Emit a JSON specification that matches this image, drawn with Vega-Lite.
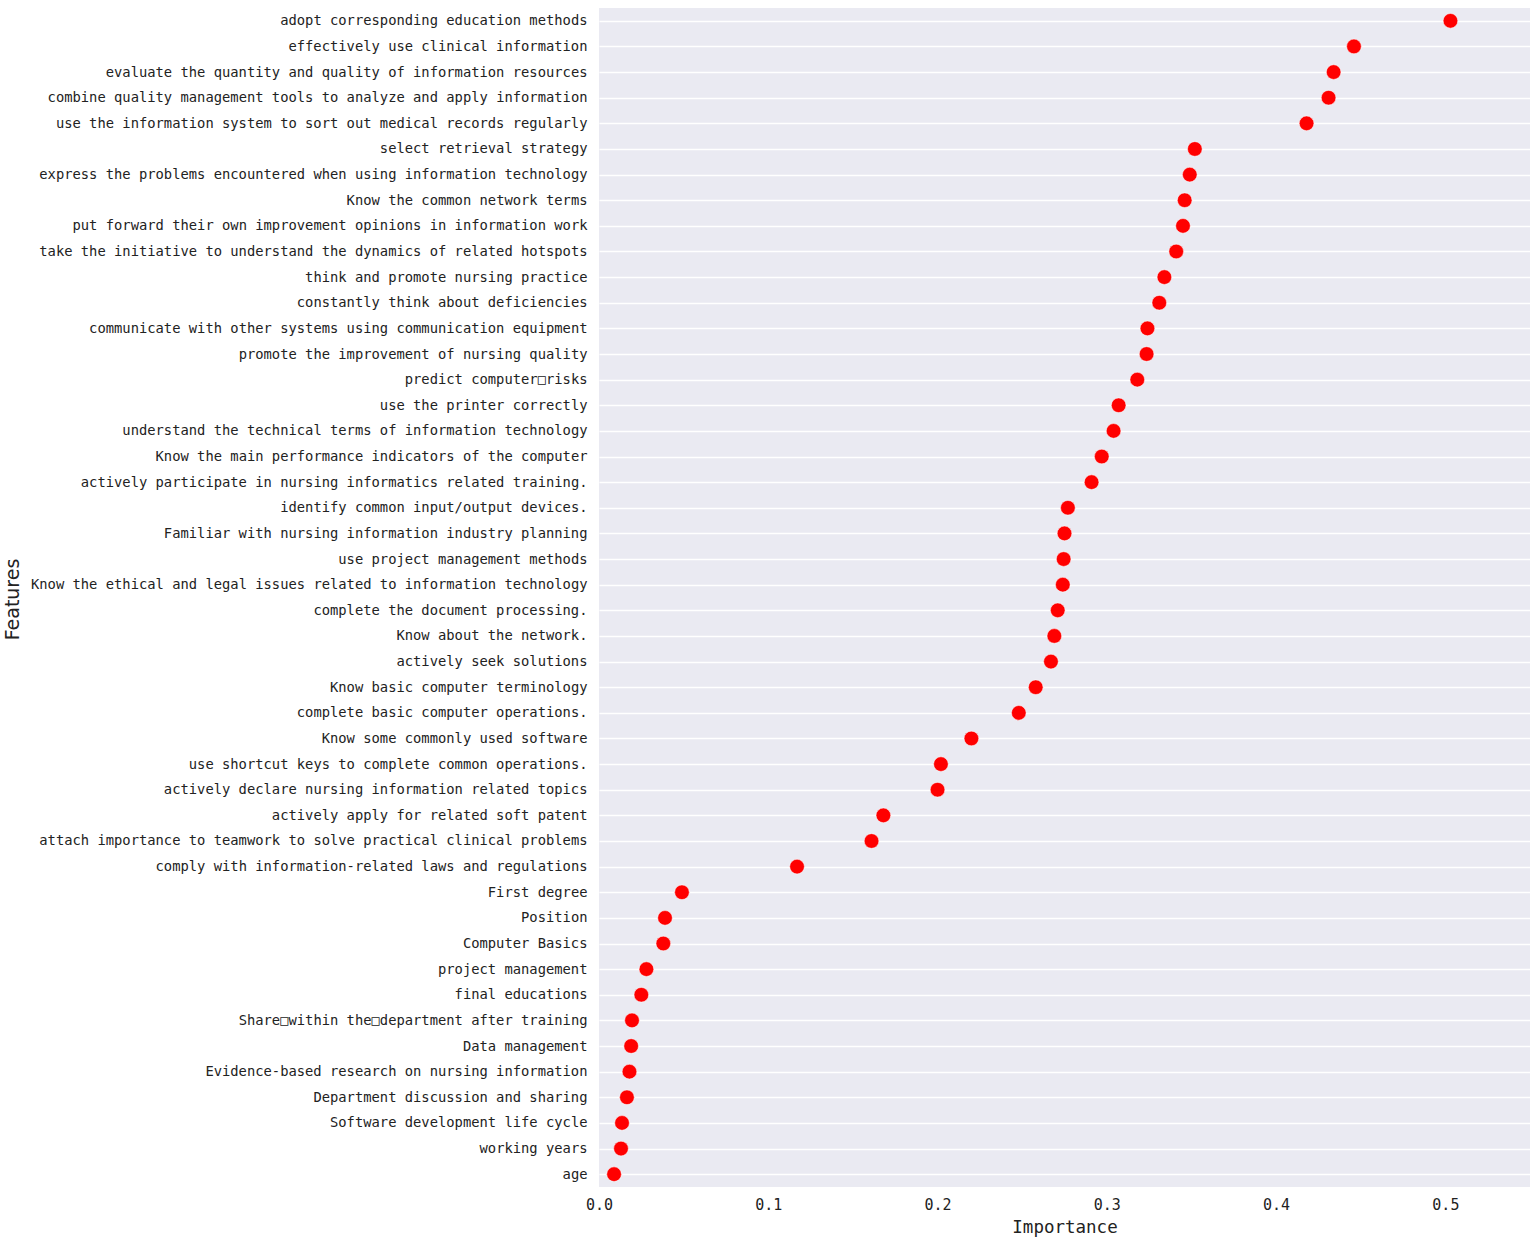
{
  "$schema": "https://vega.github.io/schema/vega-lite/v6.json",
  "autosize": {"type": "none"},
  "width": 931,
  "height": 1179,
  "padding": {"left": 599, "top": 8, "right": 5, "bottom": 57},
  "background": "white",
  "config": {
    "view": {"fill": "#EAEAF2", "stroke": null},
    "font": "DejaVu Sans Mono"
  },
  "data": {
    "values": [
      {"feature": "adopt corresponding education methods", "importance": 0.503},
      {"feature": "effectively use clinical information", "importance": 0.446},
      {"feature": "evaluate the quantity and quality of information resources", "importance": 0.434},
      {"feature": "combine quality management tools to analyze and apply information", "importance": 0.431},
      {"feature": "use the information system to sort out medical records regularly", "importance": 0.418},
      {"feature": "select retrieval strategy", "importance": 0.352},
      {"feature": "express the problems encountered when using information technology", "importance": 0.349},
      {"feature": "Know the common network terms", "importance": 0.346},
      {"feature": "put forward their own improvement opinions in information work", "importance": 0.345},
      {"feature": "take the initiative to understand the dynamics of related hotspots", "importance": 0.341},
      {"feature": "think and promote nursing practice", "importance": 0.334},
      {"feature": "constantly think about deficiencies", "importance": 0.331},
      {"feature": "communicate with other systems using communication equipment", "importance": 0.324},
      {"feature": "promote the improvement of nursing quality", "importance": 0.3235},
      {"feature": "predict computer□risks", "importance": 0.318},
      {"feature": "use the printer correctly", "importance": 0.307},
      {"feature": "understand the technical terms of information technology", "importance": 0.304},
      {"feature": "Know the main performance indicators of the computer", "importance": 0.297},
      {"feature": "actively participate in nursing informatics related training.", "importance": 0.291},
      {"feature": "identify common input/output devices.", "importance": 0.277},
      {"feature": "Familiar with nursing information industry planning", "importance": 0.275},
      {"feature": "use project management methods", "importance": 0.2745},
      {"feature": "Know the ethical and legal issues related to information technology", "importance": 0.274},
      {"feature": "complete the document processing.", "importance": 0.271},
      {"feature": "Know about the network.", "importance": 0.269},
      {"feature": "actively seek solutions", "importance": 0.267},
      {"feature": "Know basic computer terminology", "importance": 0.258},
      {"feature": "complete basic computer operations.", "importance": 0.248},
      {"feature": "Know some commonly used software", "importance": 0.220},
      {"feature": "use shortcut keys to complete common operations.", "importance": 0.202},
      {"feature": "actively declare nursing information related topics", "importance": 0.200},
      {"feature": "actively apply for related soft patent", "importance": 0.168},
      {"feature": "attach importance to teamwork to solve practical clinical problems", "importance": 0.161},
      {"feature": "comply with information-related laws and regulations", "importance": 0.117},
      {"feature": "First degree", "importance": 0.049},
      {"feature": "Position", "importance": 0.039},
      {"feature": "Computer Basics", "importance": 0.038},
      {"feature": "project management", "importance": 0.028},
      {"feature": "final educations ", "importance": 0.025},
      {"feature": "Share□within the□department after training", "importance": 0.0195},
      {"feature": "Data management", "importance": 0.019},
      {"feature": "Evidence-based research on nursing information", "importance": 0.018},
      {"feature": "Department discussion and sharing", "importance": 0.0165},
      {"feature": "Software development life cycle", "importance": 0.0136},
      {"feature": "working years", "importance": 0.013},
      {"feature": "age", "importance": 0.0089}
    ]
  },
  "mark": {"type": "point", "filled": true, "color": "#FF0000", "opacity": 1, "size": 215, "stroke": "white", "strokeWidth": 0.5},
  "encoding": {
    "y": {
      "field": "feature",
      "type": "nominal",
      "sort": null,
      "scale": {"type": "point", "padding": 0.5},
      "axis": {
        "title": "Features",
        "titleFont": "DejaVu Sans",
        "titleFontSize": 19,
        "titleFontWeight": "normal",
        "titleColor": "#222222",
        "titleX": -577,
        "titleY": 591,
        "titleAngle": -90,
        "titleAlign": "center",
        "titleBaseline": "bottom",
        "labelFont": "DejaVu Sans Mono",
        "labelFontSize": 13.8,
        "labelColor": "#222222",
        "labelPadding": 12,
        "labelLimit": 0,
        "ticks": false,
        "domain": false,
        "grid": true,
        "gridColor": "white",
        "gridWidth": 1.6,
        "gridOpacity": 1
      }
    },
    "x": {
      "field": "importance",
      "type": "quantitative",
      "scale": {"domain": [0, 0.55], "nice": false, "zero": true},
      "axis": {
        "title": "Importance",
        "titleFont": "DejaVu Sans Mono",
        "titleFontSize": 17.5,
        "titleFontWeight": "normal",
        "titleColor": "#222222",
        "titlePadding": 6,
        "values": [0, 0.1, 0.2, 0.3, 0.4, 0.5],
        "format": ".1f",
        "labelFont": "DejaVu Sans Mono",
        "labelFontSize": 15,
        "labelColor": "#222222",
        "labelPadding": 10,
        "labelFlush": false,
        "ticks": false,
        "domain": false,
        "grid": false
      }
    }
  }
}
